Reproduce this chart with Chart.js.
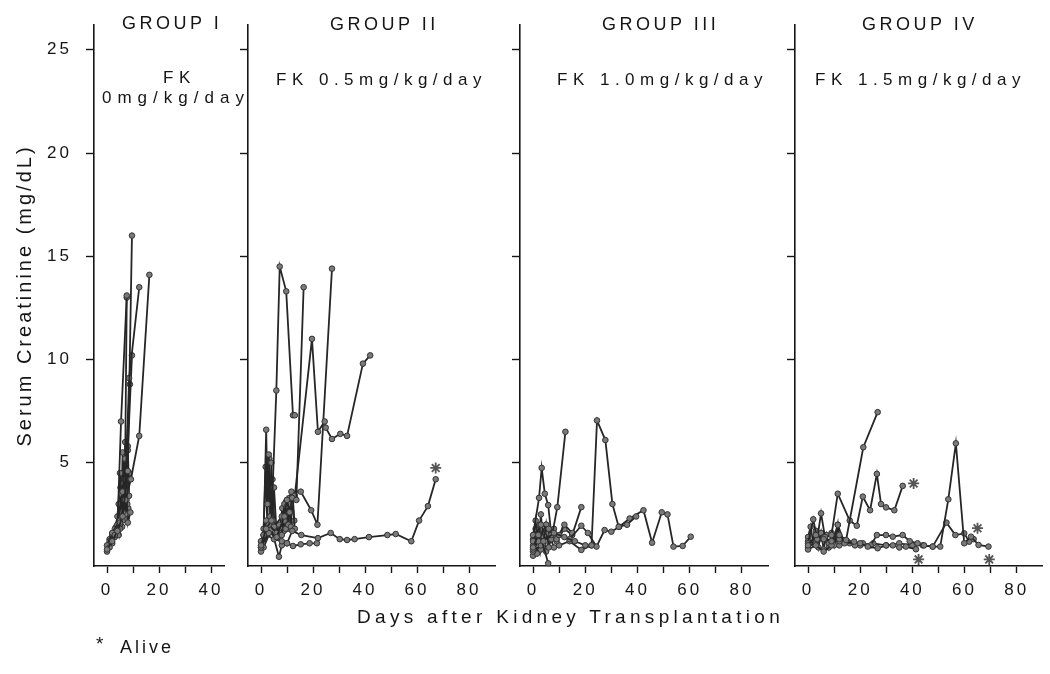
<!DOCTYPE html>
<html>
<head>
<meta charset="utf-8">
<script src="https://cdn.jsdelivr.net/npm/chart.js@4/dist/chart.umd.min.js"></script>
<style>
  body { margin: 0; background: #fff; }
  #wrap { position: relative; width: 1050px; height: 674px; background: #fff; overflow: hidden;
          font-family: "Liberation Sans", Arial, sans-serif; color: #151515; }
  #wrap canvas { position: absolute; top: 0; }
  .txt { position: absolute; white-space: pre; line-height: 1; }
  .group { font-size: 18px; letter-spacing: 3.5px; }
  .dose { font-size: 17px; letter-spacing: 5.5px; }
</style>
</head>
<body>
<div id="wrap">
  <canvas id="p1" width="240" height="674" style="left:0px"></canvas>
  <canvas id="p2" width="275" height="674" style="left:230px"></canvas>
  <canvas id="p3" width="280" height="674" style="left:500px"></canvas>
  <canvas id="p4" width="275" height="674" style="left:775px"></canvas>

  <div class="txt group" style="left:122px; top:14px">GROUP I</div>
  <div class="txt group" style="left:330px; top:15px">GROUP II</div>
  <div class="txt group" style="left:602px; top:15px">GROUP III</div>
  <div class="txt group" style="left:862px; top:15px">GROUP IV</div>

  <div class="txt dose" style="left:163px; top:69px">FK</div>
  <div class="txt dose" style="left:102px; top:89px; letter-spacing:6px">0mg/kg/day</div>
  <div class="txt dose" style="left:276px; top:71px">FK 0.5mg/kg/day</div>
  <div class="txt dose" style="left:557px; top:71px">FK 1.0mg/kg/day</div>
  <div class="txt dose" style="left:815px; top:71px">FK 1.5mg/kg/day</div>

  <div class="txt" style="left:357px; top:607px; font-size:19px; letter-spacing:4.3px">Days after Kidney Transplantation</div>
  <div class="txt" style="left:96px; top:634px; font-size:19px">*</div>
  <div class="txt" style="left:120px; top:638px; font-size:18px; letter-spacing:3px">Alive</div>
</div>

<script>
// tick values
const yTicks = [5, 10, 15, 20, 25];
const xTicksShort = [0, 10, 20, 30, 40];
const xTicksLong = [0, 10, 20, 30, 40, 50, 60, 70, 80];

// Group I - FK 0 mg/kg/day   ([day, creatinine])
const g1a = [[0, 0.8], [2, 1.2], [4, 1.7], [6, 2.4], [8, 4.6], [9.6, 16.0]];
const g1b = [[1, 0.9], [3, 1.5], [5, 2.1], [7, 3.2], [8.5, 9.1], [12.4, 13.5]];
const g1c = [[0, 1.0], [2, 1.6], [5, 2.2], [9.2, 4.2], [12.4, 6.3], [16.3, 14.1]];
const g1d = [[1, 1.2], [4, 1.8], [5.4, 7.0], [7.6, 13.1]];
const g1e = [[2, 1.5], [4, 2.0], [6, 3.6], [7, 5.2], [7.6, 13.0]];
const g1f = [[1, 1.3], [3, 1.8], [6, 2.6], [8, 5.6], [9.6, 10.2]];
const g1g = [[0, 0.7], [3, 1.5], [5, 2.5], [7, 4.2], [8.8, 8.8]];
const g1h = [[3, 1.6], [4, 2.4], [5, 1.8], [5.5, 3.5], [6, 2.2], [6.5, 4.0], [7, 2.5], [7.5, 3.6], [8, 2.1], [9, 2.6]];
const g1i = [[4, 2.0], [5, 4.5], [5.5, 2.5], [6, 5.5], [6.5, 3.0], [7, 6.0], [7.5, 3.2], [8, 5.8], [8.5, 3.4]];
const g1j = [[3, 1.4], [4.5, 3.0], [5, 2.0], [6, 4.2], [6.5, 2.6], [7.2, 5.0], [7.8, 3.0], [8.6, 4.5]];
const g1k = [[2, 1.1], [3.5, 1.9], [4.5, 1.5], [5.2, 3.8], [5.8, 1.9], [6.8, 4.6], [7.4, 2.3], [8.2, 2.8]];

// Group II - FK 0.5 mg/kg/day
const g2a = [[0, 1.0], [2, 1.8], [4, 2.2], [5.9, 8.5], [7.2, 14.5], [9.7, 13.3], [12.3, 7.3], [13, 7.3]];
const g2b = [[0, 0.9], [3, 1.6], [6, 1.4], [9, 2.4], [10, 3.2], [11, 2.6], [12, 3.3], [13.6, 3.2], [16.4, 13.5]];
const g2c = [[1, 1.5], [3, 2.0], [6, 1.6], [9, 2.2], [11, 3.0], [13, 3.4], [19.6, 11.0], [21.9, 6.5], [24.5, 7.0],
             [24.9, 6.7], [27.3, 6.15], [30.5, 6.4], [33.1, 6.3], [39.2, 9.8], [42, 10.2]];
const g2d = [[0, 1.2], [2, 2.2], [5, 1.9], [8, 2.4], [10, 2.9], [11.7, 3.6], [15.3, 3.6], [19.3, 2.7], [21.7, 2.0], [27.3, 14.4]];
const g2e = [[0, 0.9], [2, 1.5], [5, 1.3], [8, 1.2], [10, 1.1], [12, 1.7], [15.5, 1.5], [21.9, 1.35], [26.8, 1.6],
             [30.3, 1.3], [33.1, 1.26], [36, 1.3], [41.5, 1.4], [48.6, 1.5], [51.8, 1.55], [57.8, 1.2],
             [60.8, 2.2], [64.2, 2.9], [67.2, 4.2]];
const g2f = [[1, 0.9], [4, 1.8], [6.9, 0.45], [8, 1.0], [10, 1.1], [12.3, 0.97], [15.3, 1.05], [18.7, 1.1], [21.5, 1.1]];
const g2g = [[0, 0.7], [1, 1.5], [2, 6.6], [2.5, 3.0], [3, 5.4], [3.5, 2.4], [4, 5.0], [4.5, 2.2], [5, 3.8], [6, 1.6], [7, 2.0]];
const g2h = [[8, 1.5], [9, 3.0], [9.5, 1.8], [10, 3.2], [10.5, 2.0], [11, 3.3], [11.5, 1.9], [12, 3.3], [13, 1.8]];
const g2i = [[1, 1.8], [1.8, 4.8], [2.4, 2.0], [3.2, 5.2], [3.8, 2.2], [4.4, 4.2], [5.2, 1.9], [6.5, 1.4]];
const g2j = [[7, 1.6], [8.2, 2.8], [8.8, 1.7], [9.6, 3.1], [10.2, 1.8], [10.8, 3.2], [11.4, 2.1], [12.2, 3.4], [12.8, 2.2]];
const g2alive = [[67.2, 4.75]];

// Group III - FK 1.0 mg/kg/day
const g3a = [[0, 0.9], [2, 1.5], [4, 1.2], [8, 1.6], [12, 1.4], [16, 1.2], [20, 1.0], [22.4, 1.0], [24.5, 7.05],
             [27.7, 6.1], [30.4, 3.0], [32.8, 1.9], [36, 2.0], [39.5, 2.4]];
const g3b = [[0, 1.2], [3, 2.0], [6, 1.8], [10, 1.5], [14, 1.3], [18.5, 1.95], [21, 1.6], [24.3, 0.94], [27.4, 1.74],
             [30, 1.66], [33, 1.9], [37, 2.3], [42.3, 2.7], [45.6, 1.13], [49.3, 2.6], [51.5, 2.5], [53.8, 0.94],
             [57.3, 0.97], [60.4, 1.42]];
const g3c = [[0, 1.5], [2.3, 3.3], [3.3, 4.75], [4.5, 3.5], [5.8, 2.95], [7, 1.5], [9, 1.3], [12, 2.0], [15, 1.6]];
const g3d = [[0, 0.8], [2, 1.2], [5, 2.0], [7, 1.3], [9.3, 2.85], [12.4, 6.5]];
const g3e = [[0, 1.0], [3, 1.4], [5.8, 0.13]];
const g3f = [[0, 0.7], [3, 1.0], [6, 1.6], [9, 1.2], [12, 1.8], [15, 1.5], [18.5, 2.85]];
const g3g = [[0, 1.3], [1, 2.2], [2, 1.0], [3, 2.5], [4, 1.1], [5, 2.0], [6, 0.9], [8, 1.8], [10, 1.0], [14, 1.2],
             [18.5, 0.78], [22.4, 1.0]];
const g3h = [[0, 0.5], [1, 1.8], [1.5, 0.6], [2.5, 2.0], [3, 0.8], [4, 1.6], [5, 0.7], [6.5, 1.4], [8, 0.9]];

// Group IV - FK 1.5 mg/kg/day
const g4a = [[0, 1.0], [3, 1.5], [6, 1.3], [9, 1.2], [12, 1.5], [14.6, 1.26], [21.2, 5.75], [26.7, 7.45]];
const g4b = [[0, 1.1], [2, 2.26], [3.5, 1.3], [5, 2.55], [6.5, 1.4], [9, 1.5], [11.4, 3.5], [16, 2.2], [18.7, 1.95],
             [21, 3.36], [23.8, 2.7], [26.4, 4.46], [28, 3.0], [29.9, 2.84], [33.1, 2.7], [36.3, 3.88]];
const g4c = [[0, 0.8], [3, 1.0], [6, 0.7], [9, 1.0], [11.4, 1.99], [14, 1.1], [17.7, 1.18], [20, 1.1], [22.9, 0.94],
             [26.7, 0.86], [29.9, 1.0], [32.5, 1.0], [35, 0.9], [37.5, 0.94], [41.4, 0.81]];
const g4d = [[0, 1.2], [3, 1.1], [6, 1.4], [9, 1.2], [12, 1.3], [15, 1.2], [18, 1.0], [21, 1.1], [24, 1.0], [26.4, 1.5],
             [29.9, 1.5], [32.5, 1.42], [36.3, 1.5], [39, 1.2], [42, 1.1], [44.5, 1.0], [47.8, 0.94], [50.7, 0.94],
             [53.8, 3.23], [56.7, 5.94], [59.9, 1.1], [62.5, 1.42], [65.4, 1.02], [69.2, 0.94]];
const g4e = [[0, 0.9], [4, 1.3], [8, 1.1], [12, 1.2], [16, 1.1], [20, 1.0], [25, 1.1], [30, 1.0], [35, 1.1], [40, 1.0],
             [44, 1.0], [47.8, 0.94], [53.1, 2.1], [56.5, 1.5], [59.9, 1.58], [61.8, 1.18], [63.5, 1.3]];
const g4f = [[0, 1.4], [1, 1.9], [2, 1.1], [3, 1.7], [4, 0.9], [5, 1.6], [6, 0.8], [7, 1.5], [8, 0.9], [9, 1.6],
             [10, 1.0], [11.4, 2.0], [12, 1.0], [14, 1.2]];
const g4alive = [[40.5, 4.0], [42.4, 0.32], [65, 1.83], [69.5, 0.32]];

const textFont = { family: '"Liberation Sans", Arial, sans-serif', size: 17 };
const ink = '#151515';

// canvas text gets the same wide tracking as the printed figure
const tracking = {
  id: 'tracking',
  beforeDraw(chart) { chart.ctx.letterSpacing = '3px'; }
};

function lineSet(points) {
  return {
    data: points.map(([x, y]) => ({ x, y })),
    borderColor: '#262626',
    borderWidth: 1.8,
    pointRadius: 2.8,
    pointBackgroundColor: '#7a7a7a',
    pointBorderColor: '#333',
    pointBorderWidth: 1,
    tension: 0,
    clip: false
  };
}

function starSet(points) {
  return {
    data: points.map(([x, y]) => ({ x, y })),
    showLine: false,
    pointStyle: 'star',
    pointRadius: 5.5,
    pointBorderColor: '#555',
    pointBorderWidth: 1.8,
    clip: false
  };
}

function makePanel(id, cfg) {
  const datasets = cfg.series.map(lineSet);
  if (cfg.alive) datasets.push(starSet(cfg.alive));

  new Chart(document.getElementById(id), {
    type: 'line',
    data: { datasets },
    plugins: [tracking],
    options: {
      responsive: false,
      animation: false,
      events: [],
      layout: { padding: { top: 25, left: 0, right: cfg.padRight, bottom: 68 } },
      plugins: { legend: { display: false }, tooltip: { enabled: false } },
      scales: {
        x: {
          type: 'linear',
          min: -5,
          max: cfg.xMax,
          afterBuildTicks: s => { s.ticks = cfg.xTicks.map(v => ({ value: v })); },
          afterFit: s => { s.height = 40; },
          grid: { drawOnChartArea: false, drawTicks: true, tickLength: 7, tickColor: ink, tickWidth: 1.4 },
          border: { color: ink, width: 1.6 },
          ticks: {
            autoSkip: false, maxRotation: 0, padding: 7, color: ink, font: textFont,
            callback: v => (v % 20 === 0 ? String(v) : '')
          }
        },
        y: {
          min: 0,
          max: 26.2,
          afterBuildTicks: s => { s.ticks = yTicks.map(v => ({ value: v })); },
          afterFit: s => { s.width = cfg.yWidth; },
          grid: { drawOnChartArea: false, drawTicks: true, tickLength: 8, tickColor: ink, tickWidth: 1.4 },
          border: { color: ink, width: 1.6 },
          ticks: { display: cfg.showY, padding: 14, color: ink, font: textFont },
          title: {
            display: cfg.showY,
            text: 'Serum Creatinine (mg/dL)',
            color: ink,
            font: { family: textFont.family, size: 20 },
            padding: { top: 13, bottom: 0 }
          }
        }
      }
    }
  });
}

makePanel('p1', { series: [g1a, g1b, g1c, g1d, g1e, g1f, g1g, g1h, g1i, g1j, g1k], xMax: 45, xTicks: xTicksShort,
                  yWidth: 94, padRight: 16, showY: true });
makePanel('p2', { series: [g2a, g2b, g2c, g2d, g2e, g2f, g2g, g2h, g2i, g2j], alive: g2alive, xMax: 90, xTicks: xTicksLong,
                  yWidth: 18, padRight: 10, showY: false });
makePanel('p3', { series: [g3a, g3b, g3c, g3d, g3e, g3f, g3g, g3h], xMax: 90, xTicks: xTicksLong,
                  yWidth: 20, padRight: 12, showY: false });
makePanel('p4', { series: [g4a, g4b, g4c, g4d, g4e, g4f], alive: g4alive, xMax: 90, xTicks: xTicksLong,
                  yWidth: 20, padRight: 7, showY: false });
</script>
</body>
</html>
